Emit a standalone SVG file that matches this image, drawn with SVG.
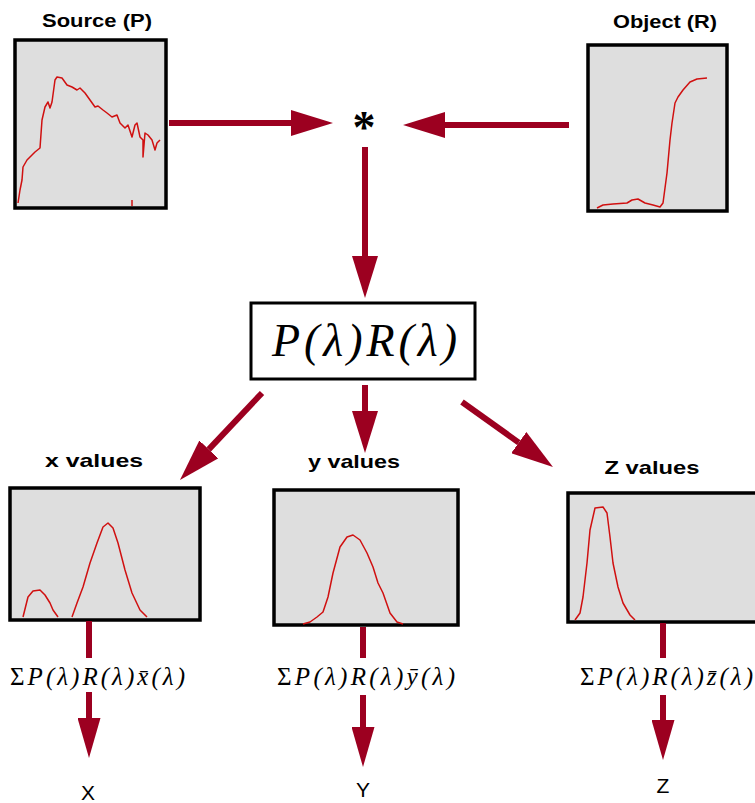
<svg xmlns="http://www.w3.org/2000/svg" width="755" height="803" viewBox="0 0 755 803">
<style>
.box{fill:#dedede;stroke:#000;stroke-width:3.5}
.curve{fill:none;stroke:#d01010;stroke-width:1.5;stroke-linejoin:round}
.conn{stroke:#9c0020;stroke-width:6;fill:none}
.lbl{font-family:"Liberation Sans",Arial,sans-serif;font-weight:bold;font-size:19px;fill:#000;text-anchor:middle}
.out{font-family:"Liberation Sans",Arial,sans-serif;font-size:21px;fill:#000;text-anchor:middle}
.fml{font-family:"Liberation Serif","Times New Roman",serif;font-style:italic;font-size:25px;fill:#000}
</style>
<defs>
<marker id="ah" markerUnits="userSpaceOnUse" markerWidth="42" markerHeight="26" viewBox="0 0 42 26" refX="0" refY="13" orient="auto">
<path d="M0,0 L42,13 L0,26 z" fill="#9c0020"/>
</marker>
<marker id="ah2" markerUnits="userSpaceOnUse" markerWidth="40" markerHeight="23" viewBox="0 0 40 23" refX="0" refY="11.5" orient="auto">
<path d="M0,0 L40,11.5 L0,23 z" fill="#9c0020"/>
</marker>
</defs>
<rect width="755" height="803" fill="#fff"/>

<g id="source">
<text class="lbl" x="97" y="27" textLength="110" lengthAdjust="spacingAndGlyphs">Source (P)</text>
<rect class="box" x="15" y="40" width="151" height="168"/>
<polyline class="curve" points="18,203 20,190 22,180 23,167 27,160 32,155 35,152 40,148 42,120 45,107 48,102 50,108 52,102 55,80 57,77 62,78 67,85 72,87 77,90 80,88 85,93 90,100 95,107 98,106 103,110 107,113 112,117 117,115 120,123 125,128 128,125 132,137 135,125 137,123 140,137 143,140 143,157 145,133 148,135 152,140 155,150 157,143 160,140"/>
<line class="curve" x1="132" y1="200" x2="132" y2="206"/>
</g>

<g id="object">
<text class="lbl" x="665" y="28" textLength="104" lengthAdjust="spacingAndGlyphs">Object (R)</text>
<rect class="box" x="588" y="45" width="139" height="166"/>
<polyline class="curve" points="597,208 603,205 613,204 627,203 632,200 638,199 645,203 653,205 660,207 663,203 667,173 670,140 672,123 675,103 678,97 683,90 690,82 697,79 707,78"/>
</g>

<g id="multiply">
<text x="364" y="143" font-family="Liberation Serif,'Times New Roman',serif" font-weight="bold" font-size="46" text-anchor="middle" fill="#000">*</text>
</g>

<g id="product">
<rect x="251" y="303" width="224" height="76" fill="#fff" stroke="#000" stroke-width="3"/>
<text x="272" y="356" font-family="Liberation Serif,'Times New Roman',serif" font-style="italic" font-size="46" textLength="185" lengthAdjust="spacing" fill="#000">P(λ)R(λ)</text>
</g>

<g id="xvalues">
<text class="lbl" x="94" y="467" textLength="98" lengthAdjust="spacingAndGlyphs">x values</text>
<rect class="box" x="10" y="488" width="190" height="132"/>
<polyline class="curve" points="23,617 28,597 33,591 40,590 45,595 50,603 53,610 58,617"/>
<polyline class="curve" points="72,617 77,603 83,587 90,563 97,543 103,527 108,523 113,528 118,543 125,570 132,593 140,610 147,617"/>
</g>

<g id="yvalues">
<text class="lbl" x="354" y="468" textLength="92" lengthAdjust="spacingAndGlyphs">y values</text>
<rect class="box" x="274" y="490" width="184" height="135"/>
<polyline class="curve" points="303,624 310,622 317,617 323,612 328,597 333,573 340,547 347,537 353,535 360,540 367,553 373,567 378,583 383,593 390,613 397,622 403,624"/>
</g>

<g id="zvalues">
<text class="lbl" x="652" y="474" textLength="95" lengthAdjust="spacingAndGlyphs">Z values</text>
<rect class="box" x="568" y="493" width="192" height="129"/>
<polyline class="curve" points="575,620 580,613 583,597 587,563 590,530 595,508 603,507 607,513 610,537 613,563 618,587 623,603 630,615 635,620"/>
</g>

<g id="sumx">
<text class="fml" x="10" y="685" textLength="175" lengthAdjust="spacing"><tspan font-style="normal">Σ</tspan>P(λ)R(λ)x̄(λ)</text>
</g>
<g id="sumy">
<text class="fml" x="277" y="685" textLength="178" lengthAdjust="spacing"><tspan font-style="normal">Σ</tspan>P(λ)R(λ)ȳ(λ)</text>
</g>
<g id="sumz">
<text class="fml" x="580" y="685" textLength="173" lengthAdjust="spacing"><tspan font-style="normal">Σ</tspan>P(λ)R(λ)z̄(λ)</text>
</g>

<g id="outX"><text class="out" x="88" y="800">X</text></g>
<g id="outY"><text class="out" x="363" y="797">Y</text></g>
<g id="outZ"><text class="out" x="663" y="793">Z</text></g>

<g id="connectors">
<line class="conn" x1="169" y1="123" x2="291" y2="123" marker-end="url(#ah)"/>
<line class="conn" x1="569" y1="125" x2="445" y2="125" marker-end="url(#ah)"/>
<line class="conn" x1="365" y1="147" x2="365" y2="256" marker-end="url(#ah)"/>
<line class="conn" x1="262" y1="393" x2="208.8" y2="449.4" marker-end="url(#ah)"/>
<line class="conn" x1="365" y1="385" x2="365" y2="411" marker-end="url(#ah)"/>
<line class="conn" x1="462" y1="402" x2="518.8" y2="442.6" marker-end="url(#ah)"/>
<line class="conn" x1="89" y1="621" x2="89" y2="658"/>
<line class="conn" x1="89" y1="692" x2="89" y2="718" marker-end="url(#ah2)"/>
<line class="conn" x1="363" y1="627" x2="363" y2="658"/>
<line class="conn" x1="363" y1="695" x2="363" y2="727" marker-end="url(#ah2)"/>
<line class="conn" x1="663" y1="623" x2="663" y2="658"/>
<line class="conn" x1="663" y1="695" x2="663" y2="720" marker-end="url(#ah2)"/>
</g>
</svg>
